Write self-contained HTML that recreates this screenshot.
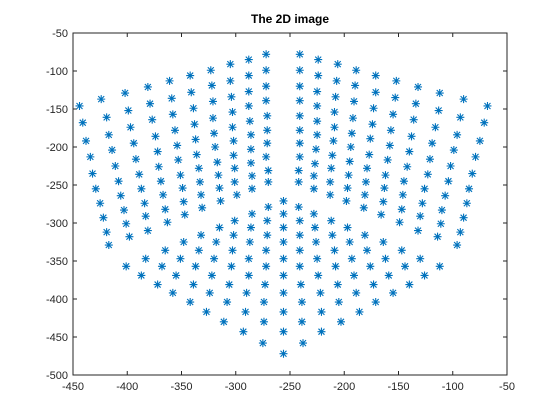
<!DOCTYPE html>
<html><head><meta charset="utf-8"><style>
html,body{margin:0;padding:0;background:#fff;width:560px;height:420px;overflow:hidden}
svg text{font-family:"Liberation Sans",Arial,sans-serif}
</style></head><body>
<svg id="chart" width="560" height="420" xmlns="http://www.w3.org/2000/svg">
<rect x="0" y="0" width="560" height="420" fill="#fff"/>
<text x="290" y="23" text-anchor="middle" font-size="12" font-weight="bold" fill="#000">The 2D image</text>
<g id="axes"></g>
<g id="marks"></g>
</svg>
<script>
const xTicks=[-450,-400,-350,-300,-250,-200,-150,-100,-50];
const yTicks=[-50,-100,-150,-200,-250,-300,-350,-400,-450,-500];
const leftX=[-444,-441,-438,-434,-432,-429,-425,-422,-419,-417,
-424,-419,-417,-414,-411,-408,-406,-403,-401,-398,
-402,-399,-397,-394,-392,-389,-387,-384,-383,-381,
-381,-379,-377,-374,-372,-371,-369,-367,-365,-363,
-361,-359,-358,-356,-354,-353,-351,-349,-348,-347,
-342,-341,-339,-338,-337,-336,-334,-333,-332,-331,
-323,-322,-321,-321,-320,-319,-317,-316,-315,-314,
-305,-305,-304,-303,-303,-302,-302,-301,-301,-299,
-288,-288,-288,-288,-287,-286,-286,-286,-285,-285,
-272,-272,-272,-272,-271,-271,-271,-272,-270,-270];
const leftY=[-146,-168,-192,-213,-235,-255,-274,-293,-312,-329,
-137,-161,-184,-204,-225,-245,-264,-283,-301,-318,
-129,-152,-174,-195,-216,-236,-255,-274,-291,-310,
-121,-143,-164,-186,-206,-226,-245,-263,-282,-299,
-113,-136,-157,-178,-198,-217,-237,-254,-272,-289,
-106,-128,-149,-170,-190,-210,-228,-246,-263,-280,
-99,-119,-140,-162,-182,-200,-220,-237,-254,-271,
-91,-113,-134,-154,-174,-192,-211,-228,-246,-263,
-85,-106,-127,-146,-166,-184,-203,-221,-238,-255,
-78,-99,-120,-139,-159,-178,-195,-213,-231,-246];
const rightX=[-241,-241,-241,-241,-241,-241,-241,-241,-242,-242,
-224,-224,-225,-225,-225,-225,-226,-227,-228,-228,
-206,-207,-208,-209,-209,-210,-211,-212,-213,-213,
-189,-190,-191,-192,-193,-194,-195,-196,-197,-198,
-171,-171,-173,-174,-176,-177,-179,-180,-181,-182,
-152,-153,-155,-157,-158,-160,-162,-163,-164,-166,
-132,-134,-136,-138,-140,-142,-145,-146,-147,-149,
-112,-113,-116,-119,-121,-123,-126,-128,-130,-132,
-90,-93,-96,-99,-102,-104,-107,-110,-111,-114,
-68,-71,-75,-79,-82,-85,-87,-90,-93,-96];
const rightY=[-78,-99,-120,-139,-159,-178,-195,-213,-231,-246,
-85,-106,-127,-146,-166,-184,-203,-222,-238,-255,
-91,-113,-134,-154,-174,-192,-211,-228,-246,-263,
-99,-119,-140,-162,-182,-200,-219,-237,-254,-271,
-106,-128,-149,-170,-189,-210,-228,-246,-263,-280,
-113,-135,-157,-178,-198,-217,-237,-254,-272,-289,
-121,-143,-164,-186,-206,-226,-245,-263,-282,-299,
-129,-152,-174,-195,-216,-236,-255,-274,-291,-310,
-137,-161,-184,-204,-225,-245,-264,-283,-301,-318,
-146,-168,-192,-213,-235,-255,-274,-293,-312,-329];
const bottomX=[-270,-271,-271,-272,-272,-273,-274,-274,-275,
-285,-286,-287,-288,-288,-290,-291,-293,
-301,-302,-303,-304,-306,-308,-311,
-315,-318,-320,-322,-324,-327,
-332,-334,-337,-339,-342,
-348,-351,-355,-358,
-365,-368,-372,
-383,-387,
-401,
-256,-256,-256,-256,-256,-256,-256,-256,-256,-256,
-242,-241,-241,-241,-241,-240,-239,-239,-238,
-228,-227,-226,-225,-224,-222,-221,-221,
-212,-211,-209,-208,-206,-205,-203,
-197,-195,-193,-191,-189,-186,
-181,-179,-176,-173,-171,
-164,-162,-159,-155,
-147,-144,-140,
-130,-126,
-112];
const bottomY=[-279,-297,-316,-336,-357,-381,-404,-430,-458,
-288,-306,-325,-347,-369,-392,-417,-443,
-297,-316,-336,-357,-381,-404,-430,
-306,-325,-347,-369,-392,-417,
-316,-336,-357,-381,-404,
-325,-347,-369,-392,
-336,-357,-381,
-347,-369,
-357,
-271,-288,-306,-325,-347,-369,-392,-417,-443,-472,
-279,-297,-316,-336,-357,-381,-404,-430,-458,
-288,-306,-325,-347,-369,-392,-417,-443,
-297,-316,-336,-357,-381,-404,-430,
-306,-325,-347,-369,-392,-417,
-316,-336,-357,-381,-404,
-325,-347,-369,-392,
-336,-357,-381,
-347,-369,
-357];

const L=73,R=507,T=33,B=375;
const xMin=-450,xMax=-50,yMin=-500,yMax=-50;
function sx(v){return L+(v-xMin)/(xMax-xMin)*(R-L);}
function sy(v){return T+(yMax-v)/(yMax-yMin)*(B-T);}
const NS="http://www.w3.org/2000/svg";
const axes=document.getElementById('axes');
const marks=document.getElementById('marks');
function mk(tag,attrs,parent){const e=document.createElementNS(NS,tag);for(const k in attrs)e.setAttribute(k,attrs[k]);parent.appendChild(e);return e;}

const box=mk('rect',{x:L,y:T,width:R-L,height:B-T,fill:'none',stroke:'#262626','stroke-width':1},axes);



xTicks.forEach(t=>{
  const x=sx(t);
  const tk=mk('path',{d:`M${x},${B}V${B-4}M${x},${T}V${T+4}`,stroke:'#262626','stroke-width':1},axes);
  
  
  const lb=mk('text',{x:x,y:B+15,'text-anchor':'middle','font-size':11,fill:'#262626'},axes);
  lb.textContent=t;
  
  
});
yTicks.forEach(t=>{
  const y=sy(t);
  const tk=mk('path',{d:`M${L},${y}H${L+4}M${R},${y}H${R-4}`,stroke:'#262626','stroke-width':1},axes);
  
  
  const lb=mk('text',{x:L-5,y:y+4,'text-anchor':'end','font-size':11,fill:'#262626'},axes);
  lb.textContent=t;
  
  
});

function star(x,y,name){
  const h=4,d=3;
  const p=mk('path',{d:`M${x-h},${y}H${x+h}M${x},${y-h}V${y+h}M${x-d},${y-d}L${x+d},${y+d}M${x-d},${y+d}L${x+d},${y-d}`,stroke:'#0072BD','stroke-width':1.1,fill:'none'},marks);
  
  
}
leftX.forEach((v,i)=>star(sx(v),sy(leftY[i]),'left-face-point'));
rightX.forEach((v,i)=>star(sx(v),sy(rightY[i]),'right-face-point'));
bottomX.forEach((v,i)=>star(sx(v),sy(bottomY[i]),'bottom-face-point'));
</script>
</body></html>
